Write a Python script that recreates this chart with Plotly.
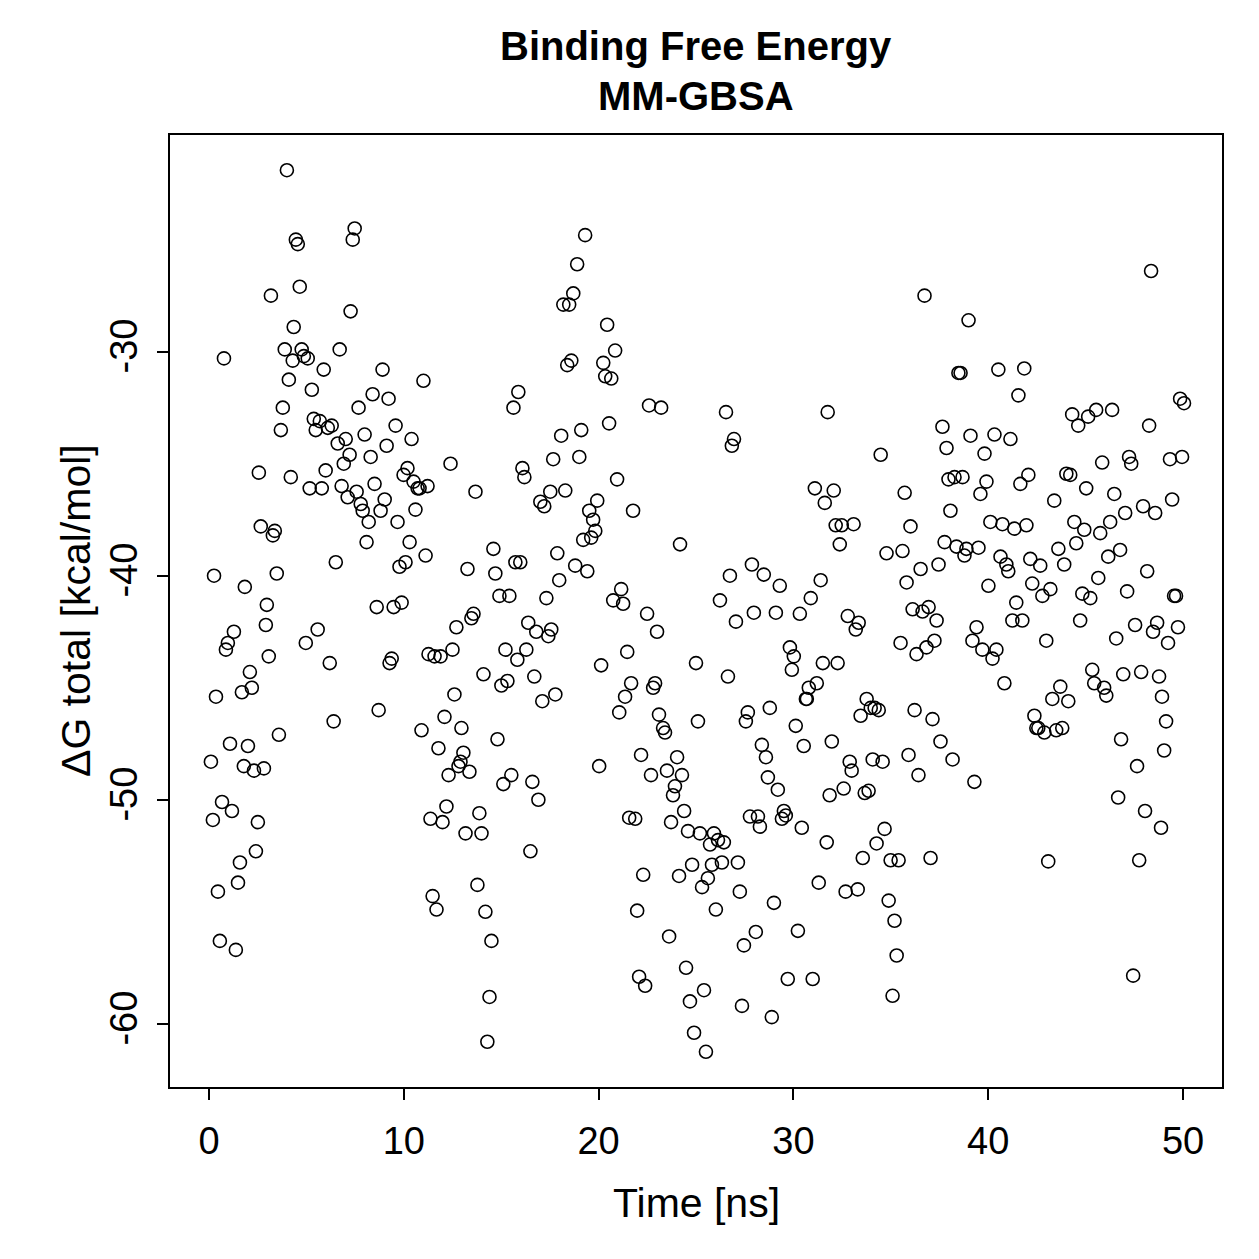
import plotly.graph_objects as go

time_ns = [
    0.10, 0.20, 0.26, 0.36, 0.46, 0.56, 0.67, 0.77, 0.87, 0.97,
    1.08, 1.18, 1.28, 1.38, 1.49, 1.59, 1.69, 1.79, 1.84, 2.00,
    2.10, 2.20, 2.31, 2.41, 2.51, 2.56, 2.66, 2.82, 2.92, 2.97,
    3.07, 3.18, 3.28, 3.38, 3.48, 3.59, 3.69, 3.79, 3.89, 4.00,
    4.10, 4.20, 4.30, 4.35, 4.46, 4.56, 4.66, 4.76, 4.87, 4.97,
    5.07, 5.17, 5.28, 5.38, 5.48, 5.58, 5.69, 5.79, 5.89, 5.99,
    6.10, 6.20, 6.30, 6.40, 6.51, 6.61, 6.71, 6.81, 6.92, 7.02,
    7.12, 7.22, 7.27, 7.38, 7.48, 7.58, 7.68, 7.79, 7.89, 7.99,
    8.09, 8.20, 8.30, 8.40, 8.50, 8.61, 8.71, 8.81, 8.91, 9.02,
    9.12, 9.22, 9.27, 9.38, 9.48, 9.58, 9.68, 9.78, 9.89, 9.99,
    10.09, 10.19, 10.30, 10.40, 10.50, 10.60, 10.71, 10.81, 10.91, 11.01,
    11.12, 11.22,
    11.27, 11.37, 11.48, 11.58, 11.68, 11.78, 11.89, 11.99, 12.09, 12.19,
    12.30, 12.40, 12.50, 12.60, 12.70, 12.81, 12.91, 12.96, 13.06, 13.17,
    13.27, 13.37, 13.47, 13.58, 13.68, 13.78, 13.88, 13.99, 14.09, 14.19,
    14.29, 14.40, 14.50, 14.60, 14.70, 14.81, 14.91, 15.01, 15.11, 15.22,
    15.32, 15.42, 15.52, 15.63, 15.73, 15.83, 15.88, 15.98, 16.09, 16.19,
    16.29, 16.39, 16.50, 16.60, 16.70, 16.80, 16.91, 17.01, 17.11, 17.21,
    17.32, 17.42, 17.52, 17.57, 17.67, 17.78, 17.88, 17.98, 18.08, 18.19,
    18.29, 18.39, 18.49, 18.60, 18.70, 18.80, 18.90, 19.01, 19.11, 19.21,
    19.31, 19.42, 19.52, 19.62, 19.72, 19.83, 19.93, 20.03, 20.13,
    20.24, 20.34, 20.44, 20.54, 20.65, 20.75, 20.85, 20.95, 21.06, 21.16,
    21.26, 21.36, 21.47, 21.57, 21.67, 21.77, 21.88, 21.98, 22.08, 22.18,
    22.29, 22.39, 22.49, 22.59, 22.69, 22.80, 22.90, 23.00, 23.10, 23.21,
    23.31, 23.41, 23.51, 23.62, 23.72, 23.82, 23.92, 24.03, 24.13,
    24.18, 24.28, 24.39, 24.49, 24.59, 24.69, 24.80, 24.90, 25.00, 25.10,
    25.20, 25.31, 25.41, 25.51, 25.61, 25.72, 25.82, 25.92, 26.02, 26.13,
    26.23, 26.33, 26.43, 26.54, 26.64, 26.74, 26.84, 26.95, 27.05, 27.15,
    27.25, 27.36, 27.46, 27.56, 27.66, 27.77, 27.87, 27.97, 28.07, 28.18,
    28.28, 28.38, 28.48, 28.59, 28.69, 28.79, 28.89, 29.00, 29.10, 29.20,
    29.30, 29.41, 29.51, 29.61, 29.71,
    29.82, 29.92, 30.02, 30.12, 30.23, 30.33, 30.43, 30.53, 30.64, 30.69,
    30.79, 30.89, 30.99, 31.10, 31.20, 31.30, 31.40, 31.51, 31.61, 31.71,
    31.76, 31.86, 31.97, 32.07, 32.17, 32.27, 32.38, 32.48, 32.58, 32.68,
    32.79, 32.89, 32.99, 33.09, 33.20, 33.30, 33.35, 33.45, 33.56, 33.66,
    33.76, 33.86, 33.97, 34.07, 34.17, 34.27, 34.38, 34.48, 34.58, 34.68,
    34.78, 34.89, 34.99, 35.09, 35.19, 35.30, 35.40, 35.50, 35.60, 35.71,
    35.81, 35.91, 36.01, 36.12, 36.22, 36.32, 36.42, 36.53, 36.63, 36.73,
    36.83, 36.94, 37.04, 37.14, 37.24, 37.35, 37.45, 37.55, 37.65, 37.76,
    37.86, 37.96, 38.06, 38.17, 38.27, 38.37, 38.47, 38.58, 38.68, 38.78,
    38.88, 38.99, 39.09, 39.19, 39.29, 39.40, 39.50, 39.60, 39.70, 39.81,
    39.91, 40.01, 40.11, 40.22, 40.32, 40.42, 40.52, 40.63, 40.73, 40.83,
    40.93, 41.03, 41.14, 41.24, 41.34, 41.44, 41.55, 41.65, 41.75, 41.85,
    41.96, 42.06, 42.16, 42.26, 42.37, 42.47, 42.57, 42.67, 42.78, 42.88,
    42.98, 43.08, 43.19, 43.29, 43.39, 43.49, 43.60, 43.70, 43.80, 43.90,
    44.01, 44.11, 44.21, 44.31, 44.42, 44.52, 44.62, 44.72, 44.83, 44.93,
    45.03, 45.13, 45.24, 45.34, 45.44, 45.54, 45.65, 45.75, 45.85, 45.95,
    46.06, 46.16, 46.26, 46.36, 46.47, 46.57, 46.67, 46.77,
    46.82, 46.93, 47.03, 47.13, 47.23, 47.34, 47.44, 47.54, 47.64, 47.75,
    47.85, 47.95, 48.05, 48.16, 48.26, 48.36, 48.46, 48.57, 48.67, 48.77,
    48.87, 48.92, 49.03, 49.13, 49.23, 49.33, 49.44, 49.54, 49.64, 49.74,
    49.85, 49.95, 50.05,
]

dg_total = [
    -48.3, -50.9, -40.0, -45.4, -54.1, -56.3, -50.1, -30.3, -43.3, -43.0,
    -47.5, -50.5, -42.5, -56.7, -53.7, -52.8, -45.2, -48.5, -40.5, -47.6,
    -44.3, -45.0, -48.7, -52.3, -51.0, -35.4, -37.8, -48.6, -42.2, -41.3,
    -43.6, -27.5, -38.2, -38.0, -39.9, -47.1, -33.5, -32.5, -29.9, -21.9,
    -31.25, -35.6, -30.4, -28.9, -25.0, -25.2, -27.1, -29.9, -30.2, -43.0,
    -30.3, -36.1, -31.7, -33.0, -33.5, -42.4, -33.1, -36.1, -30.8, -35.3,
    -33.4, -43.9, -33.3, -46.5, -39.4, -34.1, -29.9, -36.0, -35.0, -33.9,
    -36.5, -34.6, -28.2, -25.0, -24.5, -36.25, -32.5, -36.8, -37.1, -33.7,
    -38.5, -37.6, -34.7, -31.9, -35.9, -41.4, -46.0, -37.1, -30.8, -36.6,
    -34.2, -32.1, -43.9, -43.7, -41.4, -33.3, -37.6, -39.6, -41.2, -35.5,
    -39.4, -35.2, -38.5, -33.9, -35.8, -37.05, -36.1, -36.1, -46.9, -31.3,
    -39.1, -36.0,
    -43.5, -50.85, -54.3, -43.6, -54.9, -47.7, -43.6, -51.0, -46.3, -50.3,
    -48.9, -35.0, -43.3, -45.3, -42.3, -48.5, -48.3, -46.8, -47.9, -51.5,
    -39.7, -48.75, -41.9, -41.7, -36.25, -53.8, -50.6, -51.5, -44.4, -55.0,
    -60.8, -58.8, -56.3, -38.8, -39.9, -47.3, -40.9, -44.9, -49.3, -43.3,
    -44.7, -40.9, -48.9, -32.5, -39.4, -43.75, -31.8, -39.4, -35.2, -35.6,
    -43.3, -42.1, -52.3, -49.2, -44.5, -42.5, -50.0, -36.7, -45.6, -36.9,
    -41.0, -42.7, -36.25, -42.4, -34.8, -45.3, -39.0, -40.2, -33.75, -27.9,
    -36.2, -30.6, -27.9, -30.4, -27.4, -39.55, -26.1, -34.7, -33.5, -38.4,
    -24.8, -39.8, -37.1, -38.3, -37.5, -38.0, -36.65, -48.5, -44.0,
    -30.5, -31.1, -28.8, -33.2, -31.2, -41.1, -29.95, -35.7, -46.1, -40.6,
    -41.25, -45.4, -43.4, -50.8, -44.8, -37.1, -50.85, -54.95, -57.9, -48.0,
    -53.35, -58.3, -41.7, -32.4, -48.9, -45.0, -44.8, -42.5, -46.2, -32.5,
    -46.8, -47.0, -48.7, -56.1, -51.0, -49.8, -49.4, -48.1, -53.4,
    -38.6, -48.9, -50.5, -57.5, -51.4, -59.0, -52.9, -60.4, -43.9, -46.5,
    -51.5, -53.9, -58.5, -61.25, -53.5, -52.0, -52.9, -51.5, -54.9, -51.8,
    -41.1, -52.8, -51.9, -32.7, -44.5, -40.0, -34.2, -33.9, -42.05, -52.8,
    -54.1, -59.2, -56.5, -46.5, -46.1, -50.75, -39.5, -41.65, -55.9, -50.75,
    -51.2, -47.55, -39.95, -48.1, -49.0, -45.9, -59.7, -54.6, -41.65, -49.55,
    -40.45, -50.85, -50.5, -50.7, -58.0,
    -43.2, -44.2, -43.6, -46.7, -55.85, -41.7, -51.25, -47.6, -45.5, -45.5,
    -45.0, -41.0, -58.0, -36.1, -44.8, -53.7, -40.2, -43.9, -36.75, -51.9,
    -32.7, -49.8, -47.4, -36.2, -37.75, -43.9, -38.6, -37.75, -49.5, -54.1,
    -41.8, -48.3, -48.7, -37.7, -42.4, -54.0, -42.1, -46.25, -52.6, -49.7,
    -45.5, -49.6, -45.9, -48.2, -45.9, -51.95, -46.0, -34.6, -48.3, -51.3,
    -39.0, -54.5, -52.7, -58.75, -55.4, -56.95, -52.7, -43.0, -38.9, -36.3,
    -40.3, -48.0, -37.8, -41.5, -46.0, -43.5, -48.9, -39.7, -41.6, -27.5,
    -43.2, -41.4, -52.6, -46.4, -42.9, -42.0, -39.5, -47.4, -33.35, -38.5,
    -34.3, -35.7, -37.1, -48.2, -35.6, -38.7, -30.95, -30.95, -35.6, -39.1,
    -38.8, -28.6, -33.75, -42.9, -49.2, -42.3, -38.75, -36.35, -43.3, -34.55,
    -35.8, -40.45, -37.6, -43.7, -33.7, -43.3, -30.8, -39.15, -37.7, -44.8,
    -39.5, -39.8, -33.9, -42.0, -37.9, -41.2, -31.95, -35.9, -42.0, -30.75,
    -37.75, -35.5, -39.25, -40.35, -46.25, -46.8, -46.8, -39.55, -40.9, -47.0,
    -42.9, -52.75, -40.6, -45.5, -36.65, -46.9, -38.8, -44.95, -46.8, -39.5,
    -35.45, -45.6, -35.5, -32.8, -37.6, -38.55, -33.3, -42.0, -40.8, -37.95,
    -36.1, -32.9, -41.0, -44.2, -44.8, -32.6, -40.1, -38.1, -34.95, -45.0,
    -45.35, -39.15, -37.6, -32.6, -36.35, -42.8, -49.9, -38.85,
    -47.3, -44.4, -37.2, -40.7, -34.7, -35.0, -57.85, -42.2, -48.5, -52.7,
    -44.3, -36.9, -50.5, -39.8, -33.3, -26.4, -42.5, -37.2, -42.1, -44.5,
    -51.25, -45.4, -47.8, -46.5, -43.0, -34.8, -36.6, -40.9, -40.9, -42.3,
    -32.1, -34.7, -32.3,
]

x_ticks = [0, 10, 20, 30, 40, 50]
y_ticks = [-60, -50, -40, -30]

title_line1 = "Binding Free Energy"
title_line2 = "MM-GBSA"
x_label = "Time [ns]"
y_label = "ΔG total [kcal/mol]"

FONT = "Liberation Sans, Arial, Helvetica, sans-serif"

fig = go.Figure()
fig.add_trace(go.Scatter(
    x=time_ns, y=dg_total, mode="markers",
    marker=dict(symbol="circle-open", size=13, color="black",
                line=dict(width=1.6, color="black")),
    showlegend=False, hoverinfo="x+y",
))

L, R, T, B = 170, 37, 135, 172
fig.update_layout(
    width=1259, height=1259,
    margin=dict(l=L, r=R, t=T, b=B, pad=0),
    paper_bgcolor="white", plot_bgcolor="white",
    font=dict(family=FONT, size=38, color="black"),
    xaxis=dict(range=[-2.0, 52.0], tickvals=x_ticks, ticktext=[str(v) for v in x_ticks],
               showgrid=False, zeroline=False, showline=True, mirror=True,
               linecolor="black", linewidth=2, ticks="outside", ticklen=11,
               tickwidth=2, tickcolor="black", ticklabelstandoff=8,
               tickfont=dict(size=38)),
    yaxis=dict(range=[-62.82, -20.33], tickvals=y_ticks, ticktext=[str(v) for v in y_ticks],
               showgrid=False, zeroline=False, showline=True, mirror=True,
               linecolor="black", linewidth=2, ticks="outside", ticklen=11,
               tickwidth=2, tickcolor="black", tickangle=-90, ticklabelstandoff=5,
               tickfont=dict(size=38)),
)

plot_h = 1259 - T - B
def py(pix):
    return (1259 - B - pix) / plot_h

plot_w = 1259 - L - R
def px(pix):
    return (pix - L) / plot_w

fig.add_annotation(text=f"<b>{title_line1}</b>", xref="paper", yref="paper",
                   x=0.5, y=py(46), xanchor="center", yanchor="middle",
                   showarrow=False, font=dict(size=40, family=FONT))
fig.add_annotation(text=f"<b>{title_line2}</b>", xref="paper", yref="paper",
                   x=0.5, y=py(96), xanchor="center", yanchor="middle",
                   showarrow=False, font=dict(size=40, family=FONT))
fig.add_annotation(text=x_label, xref="paper", yref="paper",
                   x=0.5, y=py(1203), xanchor="center", yanchor="middle",
                   showarrow=False, font=dict(size=41, family=FONT))
fig.add_annotation(text=y_label, xref="paper", yref="paper",
                   x=px(76), y=0.5, xanchor="center", yanchor="middle",
                   textangle=-90, showarrow=False, font=dict(size=41, family=FONT))

fig.write_html("out.html")
